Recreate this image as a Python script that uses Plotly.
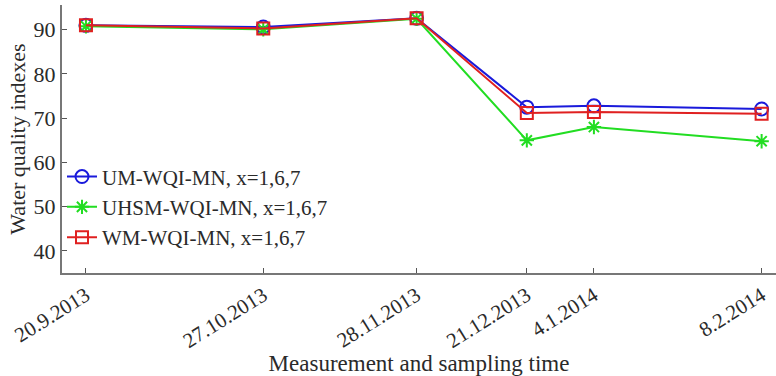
import plotly.graph_objects as go

dates = ["2013-09-20", "2013-10-27", "2013-11-28", "2013-12-21", "2014-01-04", "2014-02-08"]
tick_labels = ["20.9.2013", "27.10.2013", "28.11.2013", "21.12.2013", "4.1.2014", "8.2.2014"]
um_wqi = [91.0, 90.6, 92.6, 72.5, 72.8, 72.1]
uhsm_wqi = [90.8, 90.1, 92.5, 65.0, 68.0, 64.8]
wm_wqi = [91.0, 90.3, 92.6, 71.2, 71.4, 71.0]

font = "Liberation Serif"
fig = go.Figure()
fig.add_trace(go.Scatter(x=dates, y=um_wqi, name="UM-WQI-MN, x=1,6,7", mode="lines+markers",
                         line=dict(color="#1a1adb", width=2),
                         marker=dict(symbol="circle-open", size=13, color="#1a1adb", line=dict(width=2))))
fig.add_trace(go.Scatter(x=dates, y=uhsm_wqi, name="UHSM-WQI-MN, x=1,6,7", mode="lines+markers",
                         line=dict(color="#22dd22", width=2),
                         marker=dict(symbol="asterisk-open", size=12, color="#22dd22", line=dict(width=2))))
fig.add_trace(go.Scatter(x=dates, y=wm_wqi, name="WM-WQI-MN, x=1,6,7", mode="lines+markers",
                         line=dict(color="#e02020", width=2),
                         marker=dict(symbol="square-open", size=12, color="#e02020", line=dict(width=2))))

fig.update_layout(
    width=776, height=376,
    margin=dict(l=62, r=0, t=5, b=103),
    paper_bgcolor="white", plot_bgcolor="white",
    font=dict(family=font, size=21, color="#2a2a2a"),
    showlegend=True,
    legend=dict(x=0.0, y=0.435, xanchor="left", yanchor="top", bgcolor="rgba(0,0,0,0)",
                font=dict(family=font, size=21, color="#2a2a2a"), tracegroupgap=0, itemwidth=30),
    xaxis=dict(type="date", range=["2013-09-15", "2014-02-11"],
               tickvals=dates, ticktext=tick_labels, tickangle=-32,
               tickfont=dict(family=font, size=21, color="#2a2a2a"),
               showgrid=False, zeroline=False, showline=True, linecolor="#777", linewidth=2,
               ticks="inside", ticklen=5, tickcolor="#555",
               title=dict(text="Measurement and sampling time", font=dict(family=font, size=23, color="#2a2a2a"), standoff=0)),
    yaxis=dict(range=[35, 95.6], tickvals=[40, 50, 60, 70, 80, 90],
               tickfont=dict(family=font, size=22, color="#2a2a2a"),
               showgrid=False, zeroline=False, showline=True, linecolor="#777", linewidth=2,
               ticks="inside", ticklen=5, tickcolor="#555",
               title=dict(text="Water quality indexes", font=dict(family=font, size=22, color="#2a2a2a"), standoff=2)),
)
fig.write_html("out.html")
